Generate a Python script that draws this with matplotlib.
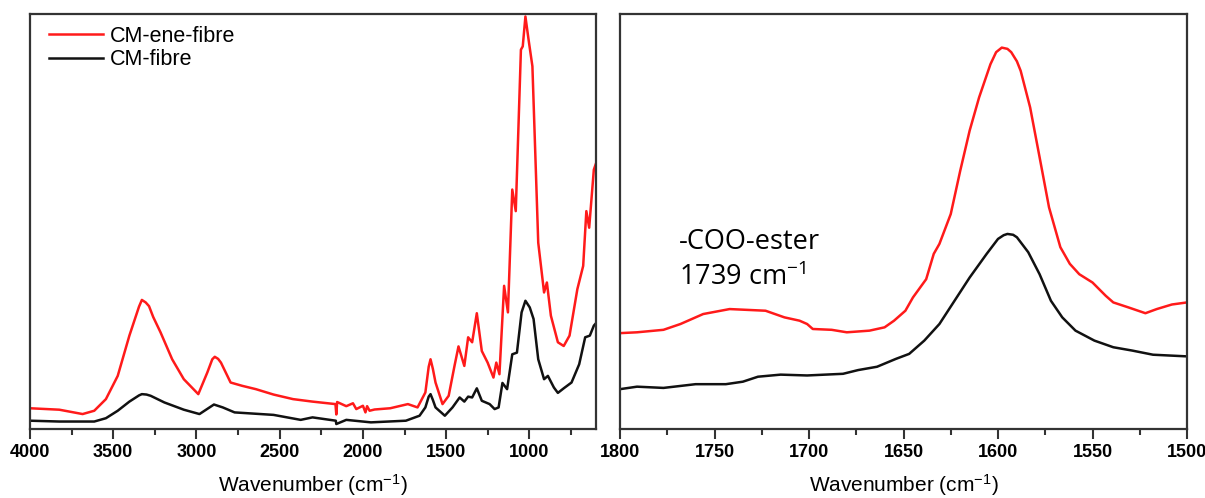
import numpy as np
import matplotlib
matplotlib.use('Agg')
import matplotlib.pyplot as plt
from matplotlib.ticker import MultipleLocator

plt.rcParams['font.family'] = ['Liberation Sans', 'DejaVu Sans']

# Full-range spectra (wavenumber, absorbance in arbitrary units)
wn_ene = [4000, 3824, 3684, 3614, 3544, 3473, 3403, 3345, 3328, 3305, 3285, 3260,
          3216, 3146, 3076, 2989, 2935, 2905, 2890, 2870, 2853, 2795, 2725, 2643,
          2537, 2420, 2303, 2165, 2160, 2155, 2100, 2060, 2040, 2000, 1985, 1975,
          1960, 1930, 1836, 1730, 1672, 1625, 1605, 1594, 1580, 1564, 1522, 1485,
          1450, 1426, 1391, 1368, 1344, 1316, 1286, 1251, 1216, 1199, 1180, 1152,
          1129, 1103, 1082, 1051, 1040, 1024, 1005, 982, 947, 912, 895, 871,
          829, 794, 759, 712, 677, 658, 641, 613, 600]
ab_ene = [5.0, 4.65, 3.6, 4.4, 7.2, 12.8, 22.5, 29.5, 31.1, 30.5, 29.6, 27.0,
          23.3, 16.8, 12.0, 8.4, 13.6, 16.8, 17.4, 16.9, 16.0, 11.2, 10.4, 9.6,
          8.3, 7.2, 6.6, 6.0, 3.5, 6.5, 5.5, 6.2, 4.8, 5.6, 4.0, 5.5,
          4.4, 4.7, 5.0, 6.0, 5.2, 8.8, 15.0, 16.8, 14.5, 11.2, 6.0, 8.0,
          15.2, 19.9, 15.2, 22.1, 20.9, 27.9, 18.8, 16.0, 12.4, 16.0, 13.2, 34.5,
          28.1, 57.7, 52.5, 91.4, 92.2, 99.4, 93.8, 87.4, 44.9, 32.9, 35.3, 27.3,
          20.9, 20.0, 22.5, 33.7, 39.3, 52.5, 48.5, 62.5, 64.0]

wn_fib = [4000, 3824, 3614, 3544, 3473, 3403, 3345, 3328, 3300, 3275, 3193, 3076,
          2982, 2895, 2842, 2771, 2537, 2374, 2303, 2163, 2160, 2100, 1952, 1742,
          1660, 1625, 1605, 1594, 1580, 1564, 1508, 1462, 1419, 1391, 1368, 1344,
          1316, 1286, 1239, 1209, 1185, 1162, 1134, 1103, 1075, 1047, 1024, 998,
          975, 947, 912, 889, 853, 829, 794, 747, 701, 665, 637, 613, 600]
ab_fib = [2.0, 1.8, 1.8, 2.6, 4.4, 6.6, 8.1, 8.4, 8.3, 8.0, 6.4, 4.65,
          3.6, 5.9, 5.2, 4.0, 3.4, 2.2, 2.8, 2.0, 1.2, 2.2, 1.6, 2.0,
          3.2, 5.2, 7.8, 8.4, 7.0, 5.2, 3.2, 5.2, 7.6, 6.6, 7.8, 7.6,
          9.8, 6.8, 6.0, 4.8, 5.2, 11.1, 9.6, 18.0, 18.4, 28.1, 30.9, 29.3,
          26.5, 16.8, 12.0, 12.8, 10.0, 8.7, 9.8, 11.2, 15.6, 22.1, 22.5, 24.9, 25.5]

# Carbonyl / carboxylate region
wn_z_ene = [1800, 1791, 1777, 1768, 1756, 1742, 1723, 1713, 1705, 1701, 1698, 1688,
            1680, 1668, 1660, 1655, 1649, 1645, 1638, 1634, 1631, 1625, 1620, 1615,
            1610, 1604, 1601, 1598, 1595, 1593, 1590, 1588, 1583, 1578, 1573, 1567,
            1562, 1557, 1550, 1543, 1539, 1531, 1522, 1516, 1508, 1500]
ab_z_ene = [23.1, 23.3, 23.9, 25.3, 27.7, 28.9, 28.5, 26.9, 26.1, 25.3, 24.1, 23.9,
            23.3, 23.7, 24.5, 26.1, 28.5, 31.7, 36.1, 42.2, 44.6, 51.8, 62.2, 71.9,
            79.9, 87.9, 90.8, 91.9, 91.6, 90.8, 88.6, 86.3, 77.5, 65.5, 53.4, 43.8,
            39.8, 37.3, 35.3, 32.1, 30.5, 29.3, 27.9, 28.9, 30.0, 30.5]

wn_z_fib = [1800, 1791, 1777, 1760, 1744, 1735, 1727, 1715, 1701, 1682, 1674, 1664,
            1654, 1647, 1639, 1631, 1623, 1615, 1606, 1600, 1597, 1595, 1592, 1590,
            1584, 1578, 1572, 1566, 1559, 1549, 1539, 1529, 1518, 1500]
ab_z_fib = [9.6, 10.2, 9.9, 10.8, 10.8, 11.4, 12.6, 13.1, 12.9, 13.3, 14.2, 15.0,
            16.9, 18.1, 21.3, 25.3, 30.9, 36.5, 42.2, 45.8, 46.7, 47.0, 46.8, 46.2,
            42.6, 37.3, 30.9, 26.9, 23.7, 21.3, 19.7, 18.9, 17.9, 17.5]

labels = ['CM-ene-fibre', 'CM-fibre']
colors = ['#ff1a1a', '#111111']

fig = plt.figure(figsize=(12.05, 4.98), dpi=100)
ax1 = fig.add_axes([30 / 1205, 69 / 498, 566 / 1205, 415 / 498])
ax2 = fig.add_axes([620 / 1205, 69 / 498, 567 / 1205, 415 / 498])

ax1.plot(wn_ene, ab_ene, color=colors[0], lw=1.8, label=labels[0])
ax1.plot(wn_fib, ab_fib, color=colors[1], lw=1.8, label=labels[1])
ax1.set_xlim(4000, 600)
ax1.set_ylim(0, 100)
ax1.xaxis.set_major_locator(MultipleLocator(500))
ax1.xaxis.set_minor_locator(MultipleLocator(250))
ax1.legend(loc='upper left', bbox_to_anchor=(0.0, 1.018), frameon=False, fontsize=15.5,
           handlelength=2.5, handletextpad=0.3, labelspacing=0.1)

ax2.plot(wn_z_ene, ab_z_ene, color=colors[0], lw=1.8)
ax2.plot(wn_z_fib, ab_z_fib, color=colors[1], lw=1.8)
ax2.set_xlim(1800, 1500)
ax2.set_ylim(0, 100)
ax2.xaxis.set_major_locator(MultipleLocator(50))
ax2.xaxis.set_minor_locator(MultipleLocator(25))
ax2.text(1769, 48.5, '-COO-ester\n1739 cm$\\mathregular{^{-1}}$', family='Open Sans',
         fontsize=19.5, va='top', ha='left', linespacing=1.35)

for ax in (ax1, ax2):
    ax.set_yticks([])
    ax.tick_params(axis='x', which='major', direction='out', length=7, width=1.5,
                   labelsize=13, pad=4, color='#333333')
    ax.tick_params(axis='x', which='minor', direction='out', length=4, width=1.5,
                   color='#333333')
    for lbl in ax.get_xticklabels():
        lbl.set_fontweight('bold')
    for sp in ax.spines.values():
        sp.set_linewidth(1.6)
        sp.set_color('#333333')
    ax.set_xlabel('Wavenumber (cm$\\mathregular{^{-1}}$)', fontsize=15, labelpad=8)

fig.savefig('out.png', dpi=100)
